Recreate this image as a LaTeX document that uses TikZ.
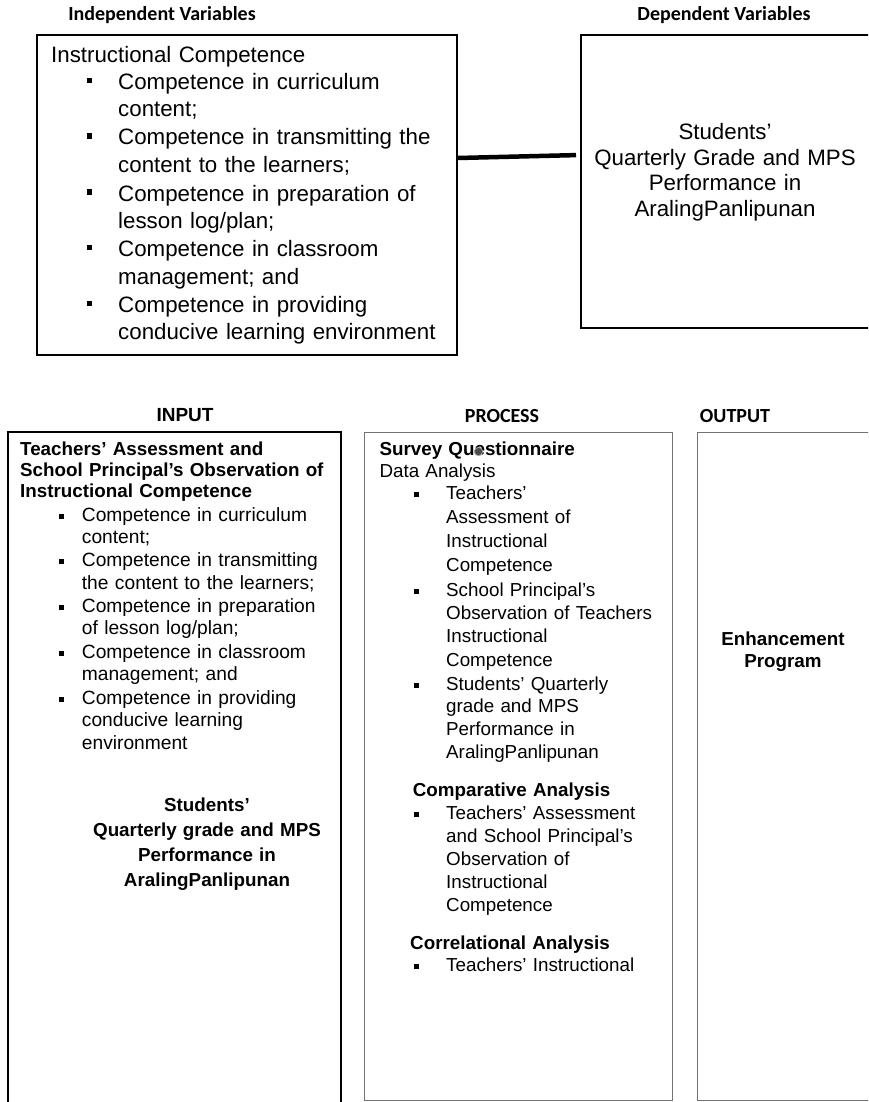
\documentclass[tikz,border=0pt]{standalone}
\usepackage{fontspec}
\setmainfont{Liberation Sans}
\newfontfamily\calfont{Carlito}

\tikzset{
  thickbox/.style={draw, line width=2pt, inner sep=0pt, anchor=north west},
  greybox/.style={draw=black!55, line width=1.3pt, inner sep=0pt, anchor=north west},
  headtxt/.style={font=\calfont\bfseries\fontsize{20}{24}\selectfont, inner sep=0pt, anchor=base},
  toptxt/.style={font=\fontsize{22.3}{27.5}\selectfont, inner sep=0pt, anchor=base west, text width=400pt, align=left},
  topmid/.style={font=\fontsize{22.3}{25.8}\selectfont, inner sep=0pt, anchor=base, text width=300pt, align=center},
  lowtxt/.style={font=\fontsize{18.8}{23}\selectfont, inner sep=0pt, anchor=base west, text width=400pt, align=left},
  lowbold/.style={lowtxt, font=\bfseries\fontsize{18.8}{21.2}\selectfont},
  lowmid/.style={font=\bfseries\fontsize{18.8}{24.8}\selectfont, inner sep=0pt, anchor=base, text width=300pt, align=center}
}

\begin{document}
\begin{tikzpicture}[x=1pt,y=1pt,yscale=-1]
\useasboundingbox (0,0) rectangle (868,1102);
\clip (0,0) rectangle (868,1102);

%Boxes
\node[thickbox, minimum width=420pt, minimum height=320pt] (indep) at (36,34) {};
\node[thickbox, minimum width=300pt, minimum height=293pt] (dep) at (580,34) {};
\node[thickbox, minimum width=333pt, minimum height=700pt] (input) at (7,431) {};
\node[greybox, minimum width=308pt, minimum height=668pt] (process) at (364,432) {};
\node[greybox, minimum width=200pt, minimum height=668pt] (output) at (697,432) {};

%Connector
\draw[line width=4.5pt, shorten >=4pt] ([yshift=124pt]indep.north east) -- ([yshift=121pt]dep.north west);

%Headings
\node[headtxt] (indeplbl) at (162,20.7) {Independent Variables};
\node[headtxt] (deplbl) at (724,20.7) {Dependent Variables};
\node[headtxt, font=\bfseries\fontsize{19}{23}\selectfont] (inlbl) at (185,421.7) {INPUT};
\node[headtxt] (proclbl) at (502,422.7) {PROCESS};
\node[headtxt] (outlbl) at (735,422.7) {OUTPUT};

%Independent variables
\node[toptxt] (ictitle) at (51,62.7) {Instructional Competence};
\node[toptxt] (ic1) at (118,89.3) {Competence in curriculum\\content;};
\node[toptxt] (ic2) at (118,145) {Competence in transmitting the\\content to the learners;};
\node[toptxt] (ic3) at (118,201) {Competence in preparation of\\lesson log/plan;};
\node[toptxt] (ic4) at (118,256.7) {Competence in classroom\\management; and};
\node[toptxt] (ic5) at (118,312.3) {Competence in providing\\conducive learning environment};
\foreach \y in {89.3,145,201,256.7,312.3}
  \fill (89.5-2.75,\y-9-2.75) rectangle ++(5.5,5.5);

%Dependent variables
\node[topmid] (deptxt) at (725,139.3) {Students’\\Quarterly Grade and MPS\\Performance in\\AralingPanlipunan};

%Input
\node[lowbold] (inhead) at (20,455) {Teachers’ Assessment and\\School Principal’s Observation of\\Instructional Competence};
\node[lowtxt, font=\fontsize{19.2}{22.5}\selectfont] (in1) at (81.7,521) {Competence in curriculum\\content;};
\node[lowtxt, font=\fontsize{19.2}{22.5}\selectfont] (in2) at (81.7,566.7) {Competence in transmitting\\the content to the learners;};
\node[lowtxt, font=\fontsize{19.2}{22.5}\selectfont] (in3) at (81.7,612.3) {Competence in preparation\\of lesson log/plan;};
\node[lowtxt, font=\fontsize{19.2}{22.5}\selectfont] (in4) at (81.7,658.3) {Competence in classroom\\management; and};
\node[lowtxt, font=\fontsize{19.2}{22.5}\selectfont] (in5) at (81.7,704) {Competence in providing\\conducive learning\\environment};
\foreach \y in {521,566.7,612.3,658.3,704}
  \fill (61.5-2.5,\y-5-2.5) rectangle ++(5,5);
\node[lowmid] (instud) at (207,811.7) {Students’\\Quarterly grade and MPS\\Performance in\\AralingPanlipunan};

%Process
\node[lowbold] (survey) at (379.3,455.7) {Survey Questionnaire};
\filldraw[fill=black!70, draw=black!35, line width=0.8pt] (478.5,451.5) circle (4.2);
\node[lowtxt] (dataan) at (379.3,477.3) {Data Analysis};
\node[lowtxt, font=\fontsize{18.8}{24.1}\selectfont] (pr1) at (446,499.3) {Teachers’\\Assessment of\\Instructional\\Competence};
\node[lowtxt, font=\fontsize{18.8}{23.1}\selectfont] (pr2) at (446,596.7) {School Principal’s\\Observation of Teachers\\Instructional\\Competence};
\node[lowtxt, font=\fontsize{18.8}{22.8}\selectfont] (pr3) at (446,690) {Students’ Quarterly\\grade and MPS\\Performance in\\AralingPanlipunan};
\node[lowbold] (compan) at (412.7,796.7) {Comparative Analysis};
\node[lowtxt, font=\fontsize{18.8}{23.2}\selectfont] (pr4) at (446,819) {Teachers’ Assessment\\and School Principal’s\\Observation of\\Instructional\\Competence};
\node[lowbold] (corran) at (410,949.3) {Correlational Analysis};
\node[lowtxt] (pr5) at (446,971.7) {Teachers’ Instructional};
\foreach \y in {499.3,596.7,690,819,971.7}
  \fill (416.7-2.5,\y-5-2.5) rectangle ++(5,5);

%Output
\node[lowmid, font=\bfseries\fontsize{18.8}{22.3}\selectfont] (enh) at (783,645) {Enhancement\\Program};
\end{tikzpicture}
\end{document}
